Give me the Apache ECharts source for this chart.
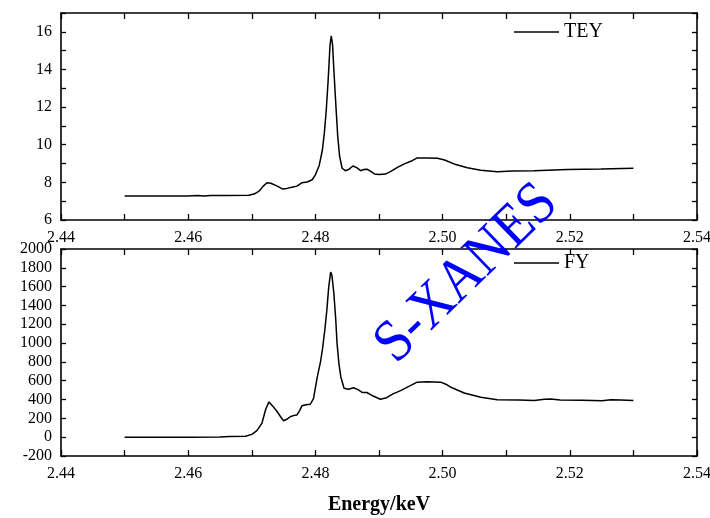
<!DOCTYPE html>
<html>
<head>
<meta charset="utf-8">
<script src="https://cdn.jsdelivr.net/npm/echarts@6/dist/echarts.min.js"></script>
<style>
  html, body { margin: 0; padding: 0; background: #fff; }
  #chart { width: 710px; height: 518px; }
</style>
</head>
<body>
<div id="chart"></div>
<script>
// TEY panel (top)
var teyEnergy = [2.450, 2.455, 2.460, 2.4615, 2.4625, 2.4635, 2.466, 2.4695, 2.4705, 2.4712,
  2.4718, 2.4724, 2.4730, 2.4740, 2.4748, 2.4755, 2.4763, 2.4771, 2.4779, 2.4787,
  2.4795, 2.4800, 2.4806, 2.4811, 2.4814, 2.4817, 2.4820, 2.4823, 2.4825, 2.4827,
  2.4829, 2.4832, 2.4835, 2.4838, 2.4842, 2.4847, 2.4853, 2.4859, 2.4865, 2.4871,
  2.4876, 2.4881, 2.4887, 2.4893, 2.4900, 2.4910, 2.4918, 2.4929, 2.4940, 2.4950,
  2.4960, 2.4975, 2.4992, 2.5003, 2.5018, 2.5039, 2.5060, 2.5086, 2.5110, 2.5144,
  2.5196, 2.5249, 2.5300];
var teyValues = [7.28, 7.28, 7.28, 7.30, 7.27, 7.30, 7.30, 7.31, 7.40, 7.55,
  7.80, 7.98, 7.95, 7.80, 7.65, 7.68, 7.74, 7.80, 7.98, 8.02,
  8.14, 8.40, 8.90, 9.72, 10.6, 11.8, 13.4, 15.3, 15.78, 15.3,
  14.0, 12.2, 10.5, 9.4, 8.75, 8.62, 8.70, 8.87, 8.78, 8.62,
  8.68, 8.70, 8.58, 8.45, 8.42, 8.44, 8.57, 8.80, 8.98, 9.12,
  9.30, 9.30, 9.28, 9.19, 8.98, 8.78, 8.64, 8.57, 8.60, 8.62,
  8.69, 8.71, 8.75];

// FY panel (bottom)
var fyEnergy = [2.450, 2.455, 2.460, 2.465, 2.4665, 2.4690, 2.4700, 2.4708, 2.4716, 2.4722,
  2.4727, 2.4733, 2.4740, 2.4745, 2.4750, 2.4755, 2.4761, 2.4767, 2.4771, 2.4775,
  2.4779, 2.4785, 2.4792, 2.4797, 2.4803, 2.4808, 2.4811, 2.4815, 2.4818, 2.4821,
  2.4824, 2.4826, 2.4829, 2.4832, 2.4834, 2.4837, 2.4840, 2.4845, 2.4852, 2.4860,
  2.4867, 2.4874, 2.4881, 2.4890, 2.4902, 2.4912, 2.4922, 2.4934, 2.4947, 2.4960,
  2.4975, 2.4997, 2.5006, 2.5013, 2.5034, 2.5060, 2.5086, 2.5120, 2.5144, 2.5160,
  2.5170, 2.5185, 2.5220, 2.5250, 2.5265, 2.5280, 2.5300];
var fyValues = [0, 0, 0, 2, 8, 10, 30, 69, 150, 300,
  375, 330, 270, 220, 175, 190, 220, 232, 236, 280,
  335, 345, 350, 410, 640, 800, 930, 1150, 1350, 1600,
  1755, 1720, 1530, 1250, 1000, 780, 640, 520, 510, 525,
  505, 474, 475, 440, 403, 420, 460, 495, 540, 585,
  590, 585, 560, 530, 470, 425, 397, 395, 390, 402,
  405, 395, 392, 388, 399, 396, 390];

// axis settings
var energyMin = 2.44, energyMax = 2.54, energyStep = 0.01;
var teyMin = 6, teyMax = 17, teyStep = 1;
var fyMin = -200, fyMax = 2000, fyStep = 200;

var serif = '"Liberation Serif", "DejaVu Serif", serif';

function pairs(xs, ys) {
  return xs.map(function (x, i) { return [x, ys[i]]; });
}

function energyLabel(v) {
  // label only every 0.02
  var k = Math.round(v * 100);
  return k % 2 === 0 ? (k / 100).toFixed(2) : '';
}

function frameAxis(extra) {
  var base = {
    axisLine: { show: true, onZero: false, lineStyle: { color: '#000', width: 1.6 } },
    axisTick: { show: true, inside: true, length: 5, lineStyle: { color: '#000', width: 1.3 } },
    axisLabel: { show: false },
    splitLine: { show: false }
  };
  return Object.assign(base, extra);
}

var xTick = { show: true, inside: true, length: 6, lineStyle: { color: '#000', width: 1.3 } };
var xLabel = { show: true, formatter: energyLabel, color: '#000', fontFamily: serif, fontSize: 16, margin: 10, hideOverlap: false };

var chart = echarts.init(document.getElementById('chart'));

var option = {
  animation: false,
  backgroundColor: '#fff',
  grid: [
    { left: 61, right: 13, top: 13, height: 207, outerBoundsMode: 'none' },
    { left: 61, right: 13, top: 249, height: 207, outerBoundsMode: 'none' }
  ],
  xAxis: [
    frameAxis({ type: 'value', gridIndex: 0, position: 'bottom', min: energyMin, max: energyMax, interval: energyStep,
      axisTick: xTick, axisLabel: xLabel }),
    frameAxis({ type: 'value', gridIndex: 0, position: 'top', min: energyMin, max: energyMax, interval: energyStep,
      axisTick: xTick }),
    frameAxis({ type: 'value', gridIndex: 1, position: 'bottom', min: energyMin, max: energyMax, interval: energyStep,
      axisTick: xTick, axisLabel: xLabel,
      name: 'Energy/keV', nameLocation: 'middle', nameGap: 39,
      nameTextStyle: { color: '#000', fontFamily: serif, fontSize: 20, fontWeight: 'bold' } }),
    frameAxis({ type: 'value', gridIndex: 1, position: 'top', min: energyMin, max: energyMax, interval: energyStep,
      axisTick: xTick })
  ],
  yAxis: [
    frameAxis({ type: 'value', gridIndex: 0, position: 'left', min: teyMin, max: teyMax, interval: teyStep,
      axisLabel: { show: true, color: '#000', fontFamily: serif, fontSize: 16, margin: 9,
        formatter: function (v) { return v % 2 === 0 ? String(v) : ''; } } }),
    frameAxis({ type: 'value', gridIndex: 0, position: 'right', min: teyMin, max: teyMax, interval: teyStep }),
    frameAxis({ type: 'value', gridIndex: 1, position: 'left', min: fyMin, max: fyMax, interval: fyStep,
      axisLabel: { show: true, color: '#000', fontFamily: serif, fontSize: 16, margin: 9,
        formatter: function (v) { return String(v); } } }),
    frameAxis({ type: 'value', gridIndex: 1, position: 'right', min: fyMin, max: fyMax, interval: fyStep })
  ],
  legend: [
    { data: ['TEY'], left: 509, top: 17, icon: 'rect', itemWidth: 45, itemHeight: 1.5,
      textStyle: { color: '#000', fontFamily: serif, fontSize: 20 } },
    { data: ['FY'], left: 509, top: 248, icon: 'rect', itemWidth: 45, itemHeight: 1.5,
      textStyle: { color: '#000', fontFamily: serif, fontSize: 20 } }
  ],
  series: [
    { name: 'TEY', type: 'line', xAxisIndex: 0, yAxisIndex: 0, data: pairs(teyEnergy, teyValues),
      showSymbol: false, symbol: 'none', lineStyle: { color: '#000', width: 1.5 }, itemStyle: { color: '#000' } },
    { name: 'FY', type: 'line', xAxisIndex: 2, yAxisIndex: 2, data: pairs(fyEnergy, fyValues),
      showSymbol: false, symbol: 'none', lineStyle: { color: '#000', width: 1.5 }, itemStyle: { color: '#000' } }
  ],
  graphic: [
    { type: 'text', x: 467, y: 274, rotation: 0.77, scaleX: 0.9, z: 100,
      style: { text: 'S-XANES', fill: '#0000ff', fontFamily: serif, fontSize: 60, align: 'center', verticalAlign: 'middle' } }
  ]
};

chart.setOption(option);
</script>
</body>
</html>
